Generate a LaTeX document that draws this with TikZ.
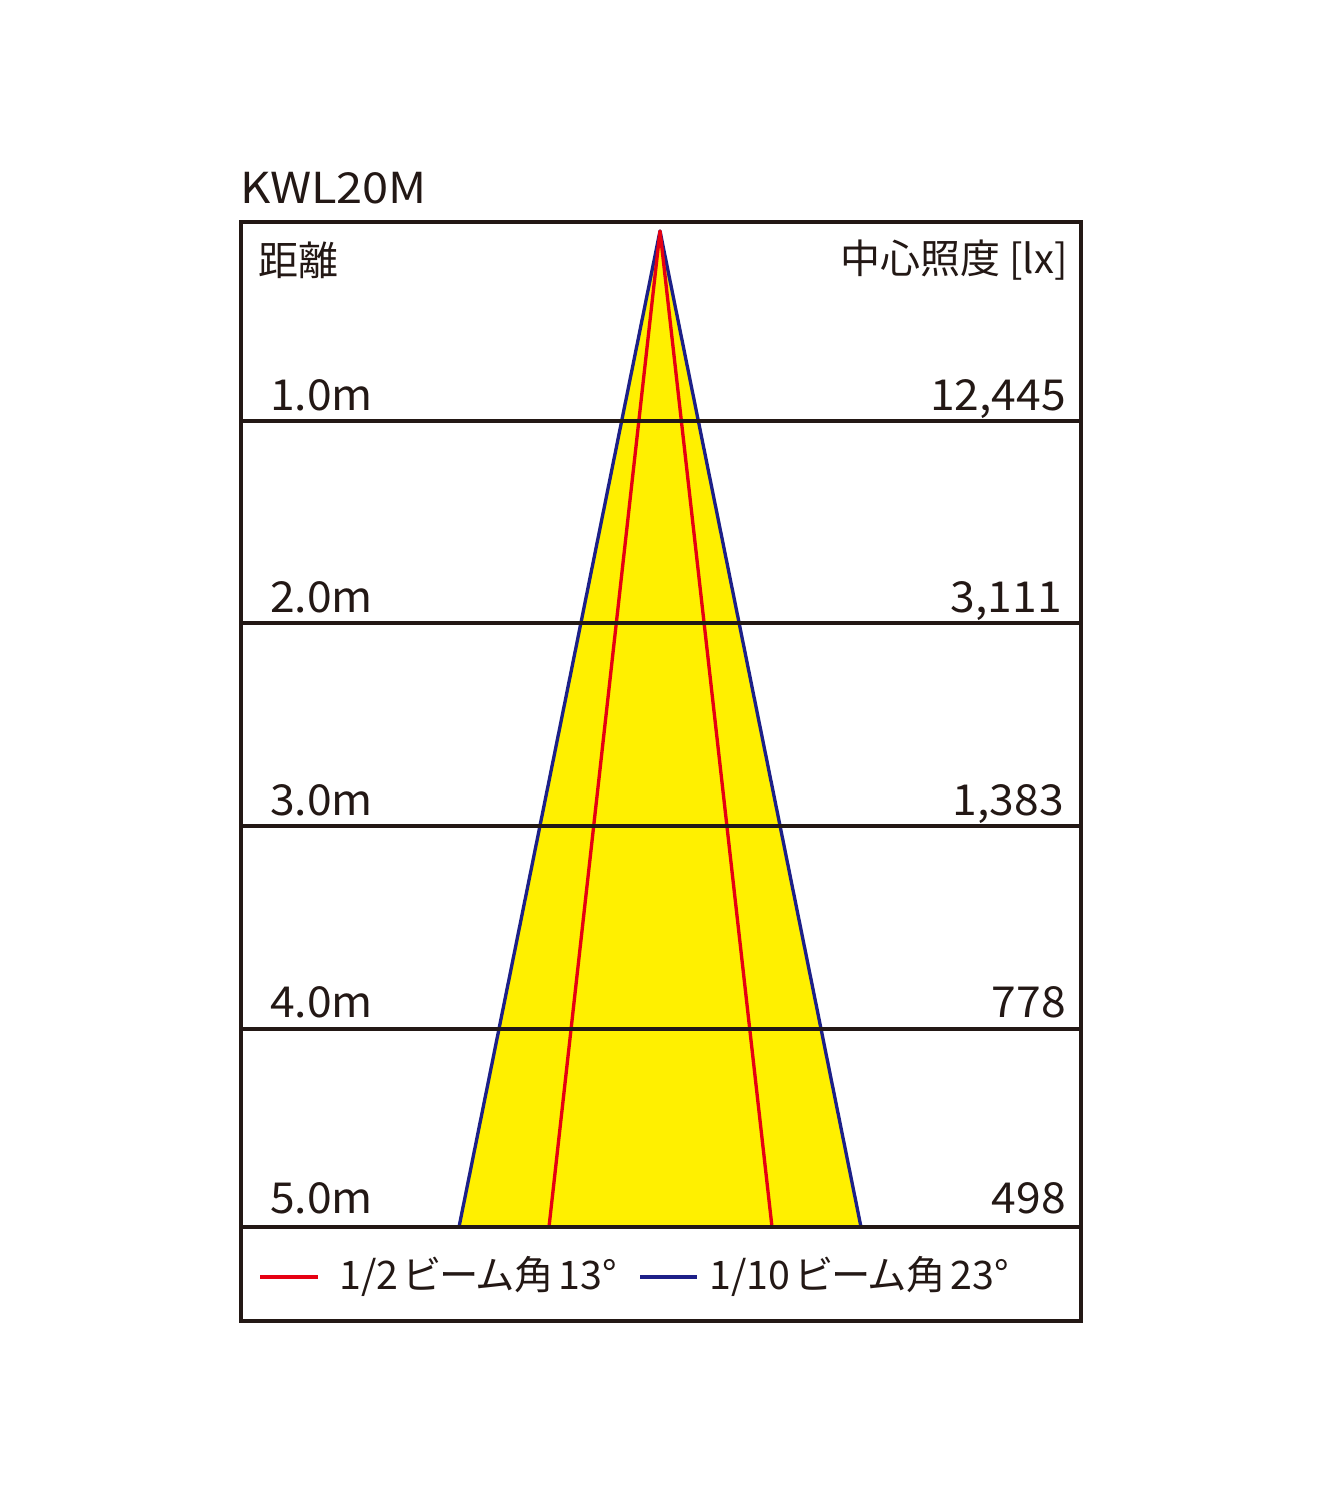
\documentclass[tikz,border=0pt]{standalone}
\usepackage{fontspec}
\setmainfont{Noto Sans CJK JP}
\newfontfamily\latinf[FakeStretch=1.04]{Noto Sans CJK JP}
\newfontfamily\titlef[FakeStretch=1.1]{Noto Sans CJK JP}
\newfontfamily\legf[RawFeature=+palt]{Noto Sans CJK JP}
\definecolor{frame}{HTML}{231815}
\definecolor{beamyellow}{HTML}{FFF000}
\definecolor{beamblue}{HTML}{1D2088}
\definecolor{beamred}{HTML}{E60012}
\newcommand{\gapsp}{\hspace{4pt}}
\begin{document}
\begin{tikzpicture}[x=0.75pt,y=-0.75pt,
  lbl/.style={inner sep=0pt,font=\fontsize{30}{30}\selectfont,text=frame},
  num/.style={inner sep=0pt,font=\latinf\fontsize{32}{32}\selectfont,text=frame},
  leg/.style={inner sep=0pt,font=\legf\fontsize{29.5}{30}\selectfont,text=frame},
  frameline/.style={draw=frame,line width=2.5pt},
  blueline/.style={draw=beamblue,line width=2.5pt,line join=round},
  redline/.style={draw=beamred,line width=2.5pt,line join=round}]
\useasboundingbox (0,0) rectangle (1323,1500);
\fill[white] (0,0) rectangle (1323,1500);
% coordinates
\coordinate (apex) at (660,231);
\coordinate (bl) at (459,1227);
\coordinate (br) at (861,1227);
\coordinate (rl) at (549,1227);
\coordinate (rr) at (772,1227);
% beam
\fill[beamyellow] (apex) -- (bl) -- (br) -- cycle;
\draw[blueline] (bl) -- (apex) -- (br);
\draw[redline] (rl) -- (apex) -- (rr);
% frame
\draw[frameline] (241,421) -- (1081,421);
\draw[frameline] (241,623) -- (1081,623);
\draw[frameline] (241,826) -- (1081,826);
\draw[frameline] (241,1029) -- (1081,1029);
\draw[frameline] (241,1227) -- (1081,1227);
\draw[frameline] (241,222) rectangle (1081,1321);
% texts
\node[inner sep=0pt,font=\titlef\fontsize{32}{32}\selectfont,text=frame,anchor=base west] (title) at (240,203) {KWL20M};
\node[lbl,anchor=west] (dist) at (258,260) {距離};
\node[lbl,anchor=east] (lux) at (1068,260) {中心照度 [lx]};
\node[num,anchor=base west] (d1) at (270,410) {1.0m};
\node[num,anchor=base west] (d2) at (270,612) {2.0m};
\node[num,anchor=base west] (d3) at (270,815) {3.0m};
\node[num,anchor=base west] (d4) at (270,1017) {4.0m};
\node[num,anchor=base west] (d5) at (270,1213) {5.0m};
\node[num,anchor=base east] (v1) at (1066,410) {12,445};
\node[num,anchor=base east] (v2) at (1062,612) {3,111};
\node[num,anchor=base east] (v3) at (1064,815) {1,383};
\node[num,anchor=base east] (v4) at (1066,1017) {778};
\node[num,anchor=base east] (v5) at (1066,1213) {498};
% legend
\coordinate (ra) at (260,1277);
\coordinate (rb) at (318,1277);
\coordinate (ba) at (640,1277);
\coordinate (bb) at (697,1277);
\draw[redline] (ra) -- (rb);
\draw[blueline] (ba) -- (bb);
\node[leg,anchor=base west] (leg1) at (339,1289) {1/2\gapsp ビーム角\gapsp 13°};
\node[leg,anchor=base west] (leg2) at (709,1289) {1/10\gapsp ビーム角\gapsp 23°};
\end{tikzpicture}
\end{document}
